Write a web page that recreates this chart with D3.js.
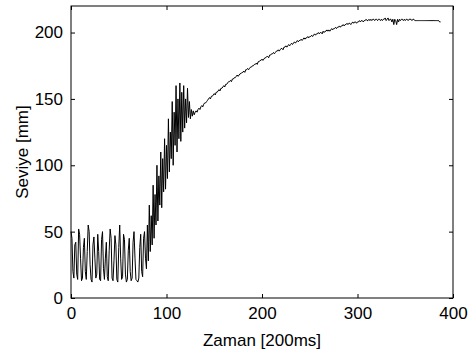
<!DOCTYPE html>
<html>
<head>
<meta charset="utf-8">
<script src="https://cdn.jsdelivr.net/npm/d3@7"></script>
<style>
  body { margin: 0; background: #fff; }
  text { font-family: "Liberation Sans", Arial, sans-serif; fill: #000; }
</style>
</head>
<body>
<div id="chart"></div>
<script>
// Seviye readings, one per 200ms sample
var seviye = [
  50, 45, 20, 15, 40, 42, 18, 14, 52, 48, 30, 13, 15, 38, 45, 20, 14, 35, 55, 50,
  25, 14, 12, 40, 46, 30, 15, 18, 48, 35, 14, 13, 44, 50, 22, 14, 30, 42, 16, 13,
  36, 52, 45, 15, 13, 28, 47, 40, 14, 12, 38, 55, 30, 14, 16, 48, 44, 18, 12, 14,
  36, 45, 20, 13, 15, 42, 50, 30, 14, 13, 12, 15, 38, 48, 20, 16, 45, 50, 30, 22,
  55, 28, 70, 35, 62, 40, 85, 45, 78, 55, 100, 58, 92, 70, 110, 68, 105, 80, 120, 82,
  115, 90, 135, 95, 125, 105, 148, 100, 140, 115, 160, 110, 150, 120, 162, 118, 155, 125, 160, 128,
  150, 132, 158, 136, 148, 135, 142, 137, 141, 138, 140, 141, 140, 142, 143, 142, 144, 145, 144, 146,
  147, 147, 148, 149, 150, 151, 150, 152, 152, 153, 154, 153, 155, 155, 156, 157, 156, 158, 158, 159,
  160, 159, 161, 161, 162, 163, 163, 164, 163, 165, 165, 166, 166, 167, 168, 167, 168, 169, 169, 170,
  170, 171, 170, 172, 172, 173, 172, 173, 174, 174, 175, 175, 176, 176, 177, 176, 178, 178, 179, 179,
  180, 179, 180, 181, 181, 182, 182, 181, 183, 183, 184, 184, 185, 184, 185, 186, 186, 187, 186, 187,
  188, 188, 187, 189, 189, 190, 189, 190, 191, 190, 191, 192, 191, 192, 193, 192, 193, 194, 193, 194,
  194, 195, 194, 195, 196, 195, 196, 196, 197, 196, 197, 197, 198, 197, 198, 199, 198, 199, 199, 200,
  199, 200, 200, 199, 201, 200, 201, 201, 202, 201, 202, 201, 202, 203, 202, 203, 203, 204, 203, 204,
  204, 205, 204, 205, 205, 206, 205, 206, 206, 207, 206, 207, 207, 206, 207, 208, 207, 208, 208, 207,
  208, 208, 209, 208, 209, 209, 208, 209, 209, 210, 209, 209, 210, 209, 210, 209, 210, 210, 209, 210,
  210, 209, 210, 210, 209, 210, 209, 210, 210, 211, 209, 210, 211, 209, 210, 210, 208, 210, 206, 210,
  209, 206, 210, 208, 210, 209, 210, 210, 209, 210, 209, 210, 210, 209, 210, 210, 210, 209, 210, 210,
  209, 209, 209, 209, 209, 209, 209, 209, 209, 209, 209, 209, 209, 209, 209, 209, 209, 209, 209, 209,
  209, 209, 209, 209, 209, 209, 208, 208
];
var xTicks = [0, 100, 200, 300, 400];
var yTicks = [0, 50, 100, 150, 200];

var width = 473, height = 354;
var margin = { top: 6, right: 20, bottom: 56, left: 71 };
var w = width - margin.left - margin.right,
    h = height - margin.top - margin.bottom;

var svg = d3.select('#chart')
    .append('svg')
    .attr('width', width)
    .attr('height', height)
    .append('g')
    .attr('transform', 'translate(' + margin.left + ',' + margin.top + ')');

var x = d3.scaleLinear().domain([0, 400]).range([0, w]);
var y = d3.scaleLinear().domain([0, 220]).range([h, 0]);

// box
svg.append('rect')
    .attr('width', w).attr('height', h)
    .attr('fill', 'none').attr('stroke', '#000').attr('stroke-width', 1);

// ticks pointing inwards on all four sides
function styleAxis(g) {
    g.select('.domain').remove();
    g.selectAll('line').attr('stroke', '#000');
    g.selectAll('text').style('font-size', '17px');
}
svg.append('g').attr('transform', 'translate(0,' + h + ')')
    .call(d3.axisBottom(x).tickValues(xTicks).tickSizeInner(-4).tickPadding(9))
    .call(styleAxis);
svg.append('g')
    .call(d3.axisTop(x).tickValues(xTicks).tickSizeInner(-4).tickFormat(''))
    .call(styleAxis);
svg.append('g')
    .call(d3.axisLeft(y).tickValues(yTicks).tickSizeInner(-4).tickPadding(8))
    .call(styleAxis);
svg.append('g').attr('transform', 'translate(' + w + ',0)')
    .call(d3.axisRight(y).tickValues(yTicks).tickSizeInner(-4).tickFormat(''))
    .call(styleAxis);

// data line
var line = d3.line()
    .x(function (d, i) { return x(i); })
    .y(function (d) { return y(d); });

svg.append('path')
    .datum(seviye)
    .attr('d', line)
    .attr('fill', 'none')
    .attr('stroke', '#000')
    .attr('stroke-width', 1);

// axis labels
svg.append('text')
    .attr('x', w / 2).attr('y', h + 48)
    .attr('text-anchor', 'middle')
    .style('font-size', '17px')
    .text('Zaman [200ms]');

svg.append('text')
    .attr('transform', 'translate(-43,' + (h / 2) + ') rotate(-90)')
    .attr('text-anchor', 'middle')
    .style('font-size', '17px')
    .text('Seviye [mm]');
</script>
</body>
</html>
